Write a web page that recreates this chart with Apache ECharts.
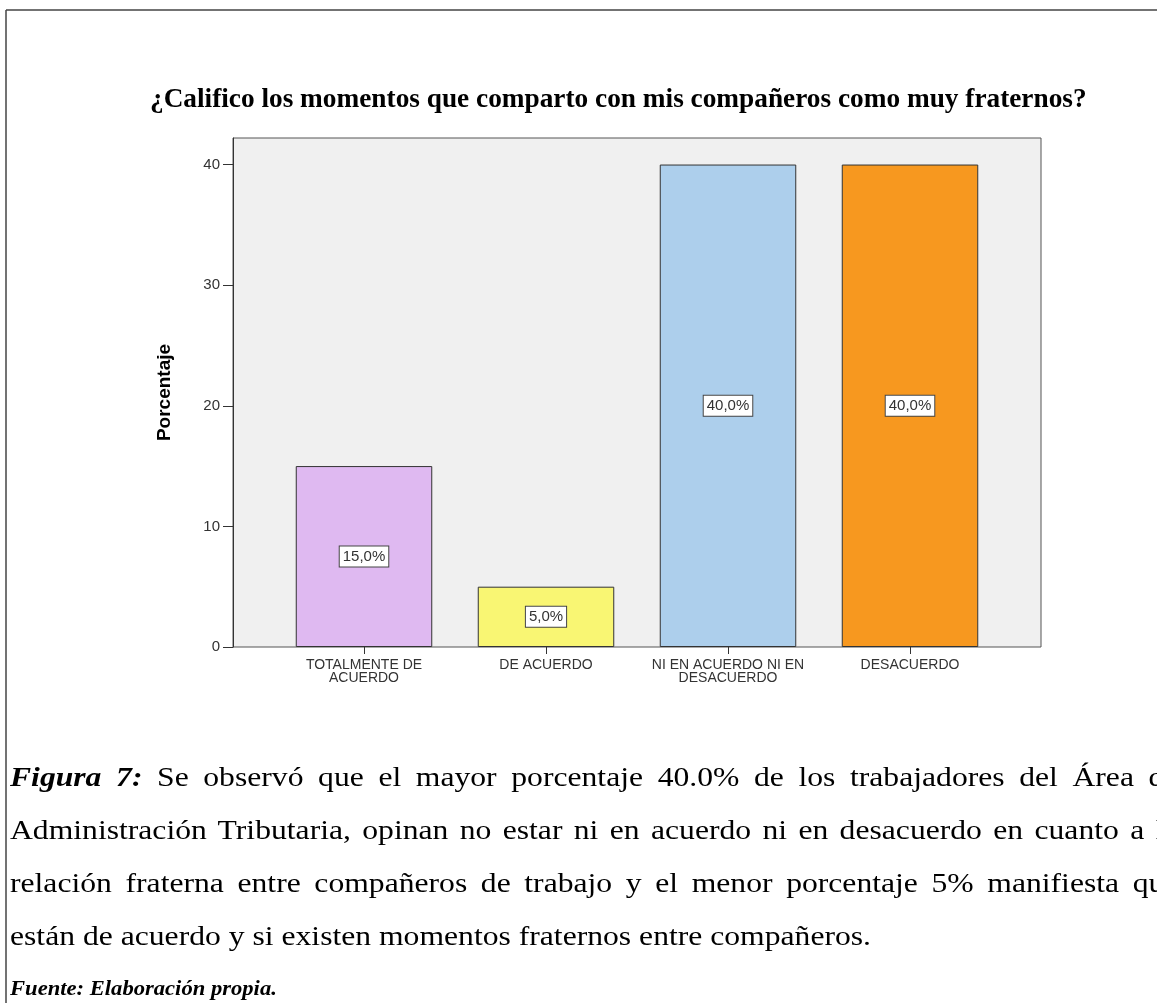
<!DOCTYPE html>
<html>
<head>
<meta charset="utf-8">
<script src="https://cdn.jsdelivr.net/npm/echarts@6/dist/echarts.min.js"></script>
<style>
  html, body { margin: 0; padding: 0; background: #fff; }
  #wrap { position: relative; width: 1157px; height: 1003px; overflow: hidden; }
  #chart { position: absolute; left: 0; top: 0; width: 1157px; height: 1003px; }
  #caption {
    position: absolute; left: 10px; top: 750px; width: 1034px;
    transform: scaleX(1.13); transform-origin: 0 0;
    font-family: "Liberation Serif", "DejaVu Serif", serif;
    font-size: 28px; line-height: 53px; color: #000;
  }
  #caption .j { text-align: justify; text-align-last: justify; }
  #caption .src { font-weight: bold; font-style: italic; font-size: 20px; line-height: 53px; }
</style>
</head>
<body>
<div id="wrap">
  <div id="chart"></div>
  <div id="caption">
    <div class="j"><b><i>Figura 7:</i></b> Se observó que el mayor porcentaje 40.0% de los trabajadores del Área de</div>
    <div class="j">Administración Tributaria, opinan no estar ni en acuerdo ni en desacuerdo en cuanto a la</div>
    <div class="j">relación fraterna entre compañeros de trabajo y el menor porcentaje 5% manifiesta que</div>
    <div>están de acuerdo y si existen momentos fraternos entre compañeros.</div>
    <div class="src">Fuente: Elaboración propia.</div>
  </div>
</div>
<script>
// Response categories and their percentages
const categories = [
  'TOTALMENTE DE\nACUERDO',
  'DE ACUERDO',
  'NI EN ACUERDO NI EN\nDESACUERDO',
  'DESACUERDO'
];
const percentages = [15.0, 5.0, 40.0, 40.0];
const barColors = ['#DFB9F1', '#F9F673', '#ADCFEC', '#F7981F'];
const yTicks = [0, 10, 20, 30, 40];
const yMax = 42.2;

const chart = echarts.init(document.getElementById('chart'), null, { renderer: 'canvas' });

const tickFont = { fontFamily: 'Liberation Sans, Arial, sans-serif', fontSize: 14, color: '#333' };

chart.setOption({
  backgroundColor: '#fff',
  animation: false,
  title: {
    text: '¿Califico los momentos que comparto con mis compañeros como muy fraternos?',
    left: 145,
    top: 81,
    textStyle: {
      fontFamily: 'Liberation Serif, Times New Roman, serif',
      fontWeight: 'bold',
      fontSize: 27.3,
      color: '#000'
    }
  },
  graphic: [
    // page frame: top and left rules
    { type: 'line', shape: { x1: 6, y1: 10, x2: 1157, y2: 10 }, style: { stroke: '#444', lineWidth: 1.5 } },
    { type: 'line', shape: { x1: 6, y1: 10, x2: 6, y2: 1003 }, style: { stroke: '#444', lineWidth: 1.5 } }
  ],
  grid: [
    // plot frame with grey background
    { left: 233, top: 138, width: 808, height: 509, show: true, backgroundColor: '#F0F0F0', borderColor: '#555', borderWidth: 1 },
    // inner band that holds the bars
    { left: 273, top: 138, width: 728, height: 509 }
  ],
  xAxis: [
    { gridIndex: 0, type: 'value', show: false, min: 0, max: 1 },
    {
      gridIndex: 1,
      type: 'category',
      data: categories,
      axisLine: { show: false },
      axisTick: { show: true, alignWithLabel: true, length: 7, lineStyle: { color: '#333' } },
      axisLabel: Object.assign({ margin: 12, lineHeight: 13, interval: 0 }, tickFont)
    }
  ],
  yAxis: [
    {
      gridIndex: 0,
      type: 'value',
      min: 0,
      max: yMax,
      name: 'Porcentaje',
      nameLocation: 'middle',
      nameGap: 59,
      nameRotate: 90,
      nameTextStyle: { fontFamily: 'Liberation Sans, Arial, sans-serif', fontWeight: 'bold', fontSize: 19, color: '#000' },
      axisLine: { show: true, lineStyle: { color: '#333' } },
      axisTick: { show: true, length: 10, customValues: yTicks, lineStyle: { color: '#333' } },
      axisLabel: Object.assign({ margin: 13, customValues: yTicks }, tickFont, { fontSize: 15 }),
      splitLine: { show: false }
    },
    { gridIndex: 1, type: 'value', min: 0, max: yMax, show: false }
  ],
  series: [{
    type: 'bar',
    xAxisIndex: 1,
    yAxisIndex: 1,
    barWidth: '75%',
    data: percentages.map((v, i) => ({ value: v, itemStyle: { color: barColors[i] } })),
    itemStyle: { borderColor: '#333', borderWidth: 1 },
    label: {
      show: true,
      position: 'inside',
      formatter: p => p.value.toFixed(1).replace('.', ',') + '%',
      fontFamily: 'Liberation Sans, Arial, sans-serif',
      fontSize: 15,
      color: '#333',
      backgroundColor: '#fff',
      borderColor: '#444',
      borderWidth: 1,
      padding: [3, 3, 2, 3]
    }
  }]
});
</script>
</body>
</html>
